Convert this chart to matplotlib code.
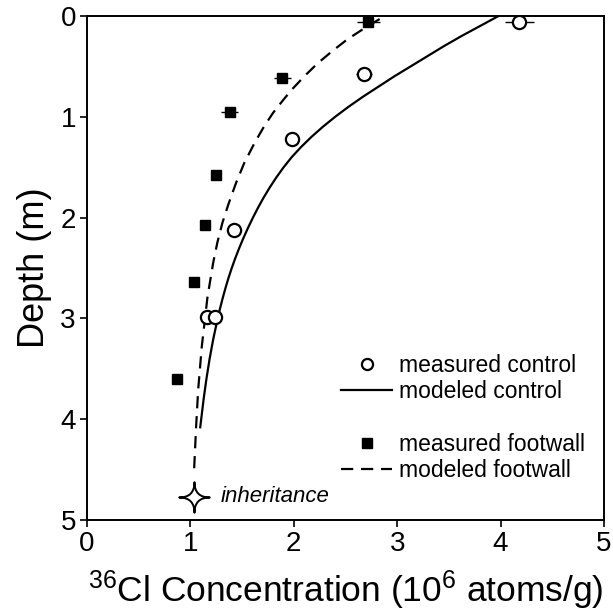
import matplotlib
matplotlib.use('Agg')
import matplotlib.pyplot as plt
from matplotlib.lines import Line2D
from matplotlib.path import Path

plt.rcParams['font.family'] = ['Liberation Sans', 'DejaVu Sans']
plt.rcParams['mathtext.fontset'] = 'custom'
plt.rcParams['mathtext.rm'] = 'Liberation Sans'
plt.rcParams['mathtext.it'] = 'Liberation Sans:italic'

# measured control samples (10^6 atoms/g, depth m)
ctrl_conc = [4.18, 2.68, 1.98, 1.42, 1.16, 1.24]
ctrl_depth = [0.06, 0.58, 1.22, 2.12, 2.99, 2.99]
ctrl_err = [0.14, 0.08, 0.05, 0.04, 0.03, 0.03]

# measured footwall samples
foot_conc = [2.72, 1.89, 1.38, 1.25, 1.14, 1.03, 0.87]
foot_depth = [0.06, 0.62, 0.95, 1.58, 2.07, 2.64, 3.60]
foot_err = [0.11, 0.08, 0.08, 0.04, 0.03, 0.03, 0.03]

# modeled control profile
model_ctrl_depth = [0.0, 0.1, 0.2, 0.3, 0.4, 0.5, 0.6, 0.7, 0.8, 0.9, 1.0,
                    1.1, 1.2, 1.3, 1.4, 1.5, 1.6, 1.7, 1.8, 1.9, 2.0, 2.1,
                    2.2, 2.3, 2.4, 2.5, 2.6, 2.7, 2.8, 2.9, 3.0, 3.2, 3.4,
                    3.6, 3.8, 4.08]
model_ctrl_conc = [3.98, 3.80, 3.62, 3.45, 3.29, 3.13, 2.97, 2.82, 2.67,
                   2.53, 2.40, 2.28, 2.17, 2.07, 1.98, 1.902, 1.832, 1.768,
                   1.709, 1.655, 1.605, 1.558, 1.514, 1.473, 1.435, 1.40,
                   1.368, 1.339, 1.312, 1.287, 1.264, 1.222, 1.186, 1.155,
                   1.128, 1.095]

# modeled footwall profile
model_foot_depth = [0.03, 0.13, 0.23, 0.35, 0.47, 0.6, 0.72, 0.83, 0.96,
                    1.10, 1.26, 1.46, 1.66, 1.86, 2.05, 2.25, 2.45, 2.79,
                    3.28, 3.71, 4.08, 4.52]
model_foot_conc = [2.83, 2.67, 2.52, 2.37, 2.23, 2.10, 1.99, 1.90, 1.80,
                   1.71, 1.62, 1.52, 1.44, 1.37, 1.31, 1.26, 1.22, 1.165,
                   1.11, 1.075, 1.055, 1.035]

# inherited concentration
inh_conc = [1.03]
inh_depth = [4.77]

# four-pointed star marker with concave sides
star_verts = [(0, 1), (0, 0), (1, 0), (0, 0), (0, -1), (0, 0), (-1, 0), (0, 0), (0, 1), (0, 1)]
star_codes = [Path.MOVETO, Path.CURVE3, Path.CURVE3, Path.CURVE3, Path.CURVE3,
              Path.CURVE3, Path.CURVE3, Path.CURVE3, Path.CURVE3, Path.CLOSEPOLY]
star = Path(star_verts, star_codes)

fig = plt.figure(figsize=(6.13, 6.13), dpi=100)
ax = fig.add_axes([87 / 613, 1 - 520 / 613, (604 - 87) / 613, (520 - 16) / 613])

ax.plot(model_ctrl_conc, model_ctrl_depth, color='black', lw=1.6)
ax.plot(model_foot_conc, model_foot_depth, color='black', lw=1.6,
        dashes=(5.5, 3.5))

ax.errorbar(ctrl_conc, ctrl_depth, xerr=ctrl_err, fmt='o', ms=9.5,
            mfc='white', mec='black', mew=1.6, ecolor='black', elinewidth=1.0,
            capsize=0, zorder=4)
ax.errorbar(foot_conc, foot_depth, xerr=foot_err, fmt='s', ms=7.5,
            mfc='black', mec='black', ecolor='black', elinewidth=1.0,
            capsize=0, zorder=4)

ax.plot(inh_conc, inh_depth, marker=star, ms=22, mfc='white', mec='black',
        mew=1.4, ls='none', zorder=5)
ax.text(inh_conc[0] + 0.26, inh_depth[0], 'inheritance', fontsize=16,
        style='italic', va='center', ha='left')

ax.set_xlim(0, 5)
ax.set_ylim(5, 0)
ax.set_xticks(range(6))
ax.set_yticks(range(6))
ax.tick_params(direction='out', length=5, width=1.2, labelsize=20, pad=3)
for s in ax.spines.values():
    s.set_linewidth(1.4)

ax.set_xlabel(r'$^{36}$Cl Concentration (10$^{6}$ atoms/g)', fontsize=25.5,
              labelpad=8)
ax.set_ylabel('Depth (m)', fontsize=26, labelpad=6)

handles = [
    Line2D([], [], marker='o', ls='none', ms=8, mfc='white', mec='black', mew=1.6),
    Line2D([], [], color='black', lw=1.6),
    Line2D([], [], ls='none'),
    Line2D([], [], marker='s', ls='none', ms=7, mfc='black', mec='black'),
    Line2D([], [], color='black', lw=1.6, dashes=(5.5, 3.5)),
]
labels = ['measured control', 'modeled control', ' ',
          'measured footwall', 'modeled footwall']
ax.legend(handles, labels, loc='upper left', bbox_to_anchor=(0.492, 0.33),
          frameon=False, fontsize=16.5, borderpad=0, borderaxespad=0,
          handlelength=2.2, handletextpad=0.32, labelspacing=0.15)

fig.savefig('out.png', dpi=100)
